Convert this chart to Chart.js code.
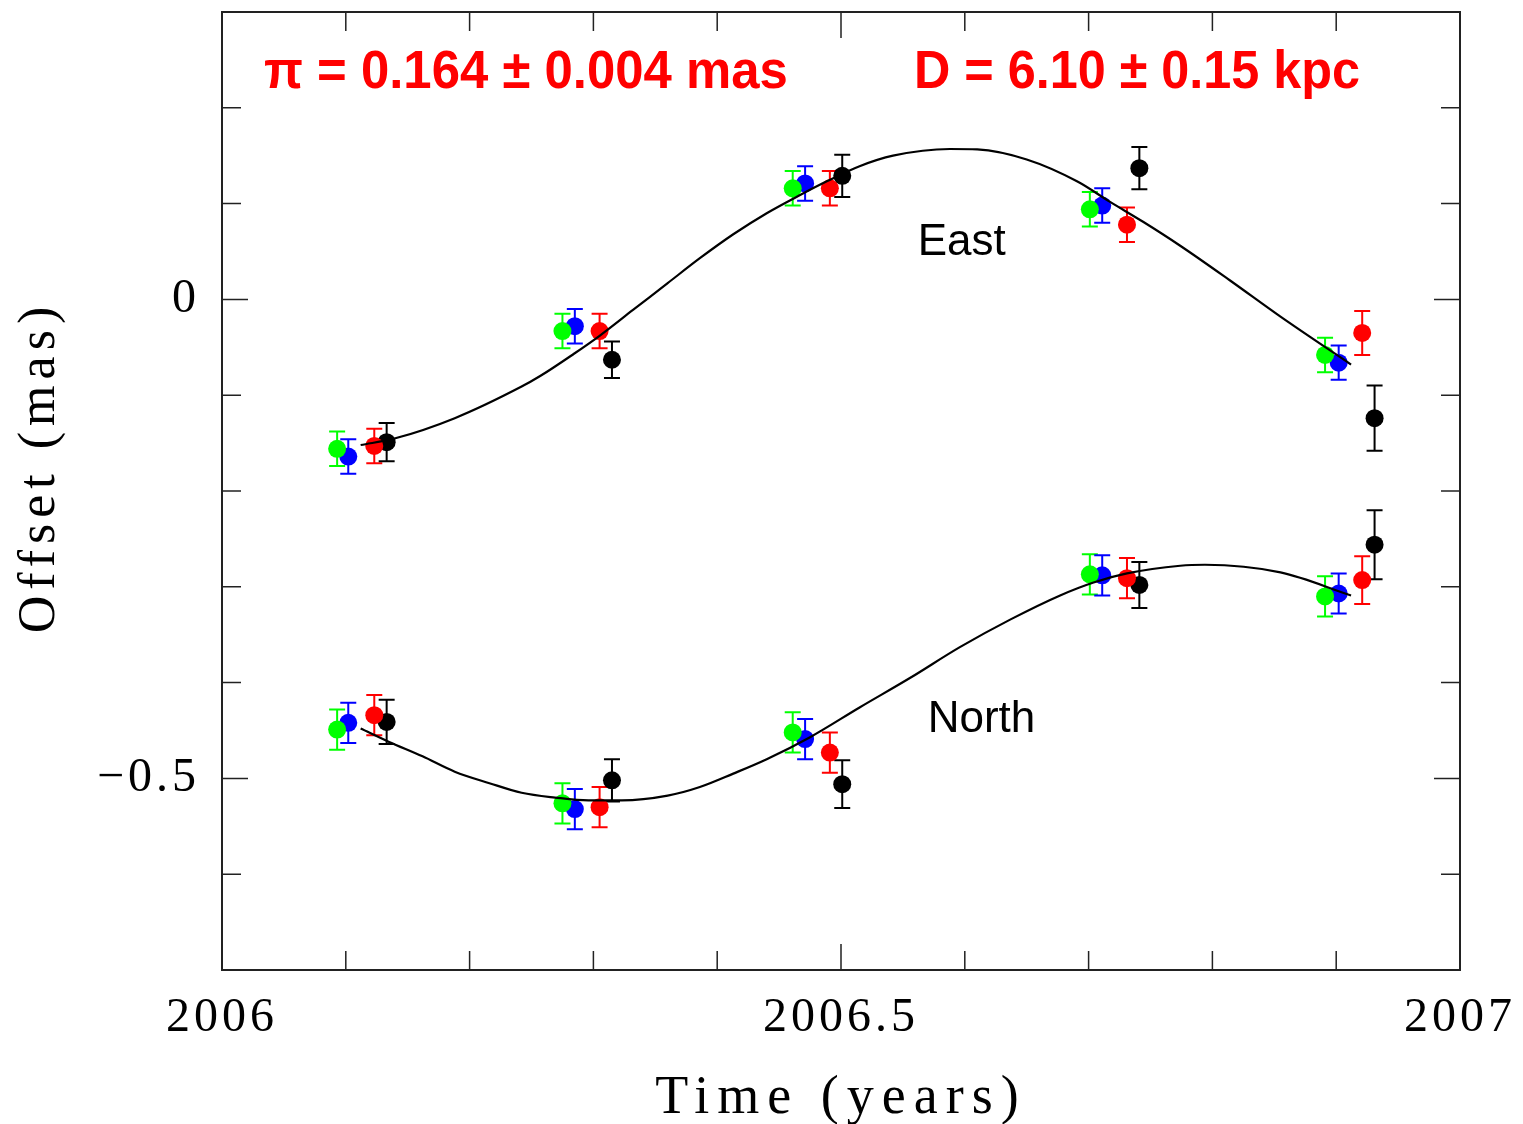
<!DOCTYPE html>
<html>
<head>
<meta charset="utf-8">
<title>Parallax fit</title>
<script src="https://cdn.jsdelivr.net/npm/chart.js@4.4.0/dist/chart.umd.min.js"></script>
<style>
  body { margin: 0; background: #fff; }
  canvas { display: block; }
</style>
</head>
<body>
<canvas id="parallax" width="1523" height="1124"></canvas>
<script>
// observing epochs (decimal year), one list per maser spot
const epochsGreen = [2006.093, 2006.275, 2006.461, 2006.701, 2006.891];
const epochsBlue  = [2006.102, 2006.285, 2006.471, 2006.711, 2006.902];
const epochsRed   = [2006.123, 2006.305, 2006.491, 2006.731, 2006.921];
const epochsBlack = [2006.133, 2006.315, 2006.501, 2006.741, 2006.931];

// East offsets (mas) and 1-sigma errors
const eastGreen = [-0.156, -0.033, 0.116, 0.094, -0.058];
const eastBlue  = [-0.164, -0.028, 0.121, 0.098, -0.066];
const eastRed   = [-0.153, -0.033, 0.116, 0.078, -0.035];
const eastBlack = [-0.149, -0.063, 0.129, 0.137, -0.124];
const eastGreenErr = [0.018, 0.018, 0.018, 0.018, 0.018];
const eastBlueErr  = [0.018, 0.018, 0.018, 0.018, 0.018];
const eastRedErr   = [0.018, 0.018, 0.018, 0.018, 0.023];
const eastBlackErr = [0.020, 0.019, 0.022, 0.022, 0.034];

// North offsets (mas) and 1-sigma errors
const northGreen = [-0.449, -0.526, -0.452, -0.287, -0.310];
const northBlue  = [-0.442, -0.532, -0.459, -0.288, -0.307];
const northRed   = [-0.434, -0.530, -0.473, -0.291, -0.293];
const northBlack = [-0.441, -0.502, -0.506, -0.298, -0.256];
const northGreenErr = [0.021, 0.021, 0.021, 0.021, 0.021];
const northBlueErr  = [0.021, 0.021, 0.021, 0.021, 0.021];
const northRedErr   = [0.021, 0.021, 0.021, 0.021, 0.025];
const northBlackErr = [0.023, 0.022, 0.025, 0.024, 0.036];

// best-fit parallax model, sampled
const eastFitT = [2006.112, 2006.140, 2006.188, 2006.242, 2006.257, 2006.284, 2006.305, 2006.332,
  2006.360, 2006.386, 2006.413, 2006.440, 2006.467, 2006.489, 2006.515, 2006.542, 2006.588,
  2006.610, 2006.650, 2006.691, 2006.717, 2006.744, 2006.774, 2006.814, 2006.855, 2006.912];
const eastFitV = [-0.152, -0.145, -0.124, -0.091, -0.080, -0.057, -0.038, -0.011,
  0.017, 0.043, 0.068, 0.090, 0.109, 0.1235, 0.139, 0.150, 0.157,
  0.1565, 0.146, 0.123, 0.102, 0.081, 0.056, 0.020, -0.018, -0.068];
const northFitT = [2006.112, 2006.135, 2006.162, 2006.188, 2006.216, 2006.242, 2006.269, 2006.296,
  2006.323, 2006.360, 2006.386, 2006.413, 2006.440, 2006.475, 2006.515, 2006.556, 2006.596,
  2006.637, 2006.677, 2006.704, 2006.731, 2006.774, 2006.794, 2006.855, 2006.912];
const northFitV = [-0.448, -0.462, -0.477, -0.493, -0.505, -0.515, -0.520, -0.523,
  -0.523, -0.518, -0.509, -0.495, -0.480, -0.457, -0.426, -0.395, -0.363,
  -0.334, -0.309, -0.2955, -0.286, -0.278, -0.277, -0.285, -0.309];

// labelled ticks
const xTickValues = [2006, 2006.5, 2007];
const xTickLabels = ['2006', '2006.5', '2007'];
const yTickValues = [-0.5, 0];
const yTickLabels = ['−0.5', '0'];

const serif = "'Liberation Serif', 'Times New Roman', serif";
const sans = "'Liberation Sans', Arial, sans-serif";

function points(xs, ys, errs) {
  return xs.map((x, i) => ({ x: x, y: ys[i], err: errs[i] }));
}

function curve(xs, ys) {
  return xs.map((x, i) => ({ x: x, y: ys[i] }));
}

function spot(label, color, xs, ys, errs) {
  return {
    label: label,
    data: points(xs, ys, errs),
    errorBars: true,
    backgroundColor: color,
    borderColor: color,
    pointRadius: 9,
    pointHoverRadius: 9,
    pointBorderWidth: 0
  };
}

function fitLine(label, xs, ys) {
  return {
    label: label,
    data: curve(xs, ys),
    showLine: true,
    borderColor: '#000',
    borderWidth: 2.2,
    pointRadius: 0,
    cubicInterpolationMode: 'monotone'
  };
}

function labelFor(values, labels) {
  return v => {
    const i = values.findIndex(t => Math.abs(t - v) < 1e-6);
    return i < 0 ? '' : labels[i];
  };
}

// vertical error bars with caps, under the dots
const errorBarPlugin = {
  id: 'errorBars',
  beforeDatasetsDraw(chart) {
    const ctx = chart.ctx;
    ctx.letterSpacing = '0px';
    const xs = chart.scales.x, ys = chart.scales.y;
    ctx.save();
    ctx.lineWidth = 2;
    chart.data.datasets.forEach(ds => {
      if (!ds.errorBars) return;
      ctx.strokeStyle = ds.borderColor;
      ds.data.forEach(p => {
        const px = xs.getPixelForValue(p.x);
        const top = ys.getPixelForValue(p.y + p.err);
        const bot = ys.getPixelForValue(p.y - p.err);
        ctx.beginPath();
        ctx.moveTo(px, top); ctx.lineTo(px, bot);
        ctx.moveTo(px - 8, top); ctx.lineTo(px + 8, top);
        ctx.moveTo(px - 8, bot); ctx.lineTo(px + 8, bot);
        ctx.stroke();
      });
    });
    ctx.restore();
  }
};

// box with inward ticks on all four sides, axis titles and annotations
const framePlugin = {
  id: 'frame',
  beforeDraw(chart) {
    // wide letter spacing for the tick numbers
    chart.ctx.letterSpacing = '4px';
  },
  afterDraw(chart) {
    const ctx = chart.ctx;
    const a = chart.chartArea;
    const xs = chart.scales.x, ys = chart.scales.y;
    ctx.save();
    ctx.strokeStyle = '#222';
    ctx.lineWidth = 2;
    ctx.strokeRect(a.left, a.top, a.right - a.left, a.bottom - a.top);
    ctx.lineWidth = 1.5;
    ctx.beginPath();
    for (let i = 0; i <= 10; i++) {
      const t = 2006 + i / 10;
      const len = i % 5 === 0 ? 26 : 19;
      const px = xs.getPixelForValue(t);
      ctx.moveTo(px, a.bottom); ctx.lineTo(px, a.bottom - len);
      ctx.moveTo(px, a.top); ctx.lineTo(px, a.top + len);
    }
    for (let i = 0; i <= 10; i++) {
      const v = -0.7 + i / 10;
      const len = (i === 2 || i === 7) ? 26 : 19;
      const py = ys.getPixelForValue(v);
      ctx.moveTo(a.left, py); ctx.lineTo(a.left + len, py);
      ctx.moveTo(a.right, py); ctx.lineTo(a.right - len, py);
    }
    ctx.stroke();

    // axis titles
    ctx.fillStyle = '#000';
    ctx.textBaseline = 'alphabetic';
    ctx.textAlign = 'left';
    ctx.font = '54px ' + serif;
    ctx.letterSpacing = '8px';
    let w = ctx.measureText('Time (years)').width;
    ctx.fillText('Time (years)', (a.left + a.right) / 2 - w / 2, 1113);

    ctx.font = '52px ' + serif;
    ctx.letterSpacing = '6px';
    w = ctx.measureText('Offset (mas)').width;
    ctx.save();
    ctx.translate(54, 467);
    ctx.rotate(-Math.PI / 2);
    ctx.fillText('Offset (mas)', -w / 2, 0);
    ctx.restore();
    ctx.letterSpacing = '0px';

    // component labels
    ctx.font = '44px ' + sans;
    ctx.fillText('East', xs.getPixelForValue(2006.562), ys.getPixelForValue(0.046));
    ctx.fillText('North', xs.getPixelForValue(2006.570), ys.getPixelForValue(-0.452));

    // fitted parallax and distance
    ctx.fillStyle = '#ff0000';
    ctx.font = 'bold 53px ' + sans;
    ctx.save();
    ctx.translate(264, 88);
    ctx.scale(0.96, 1);
    ctx.fillText('π = 0.164 ± 0.004 mas', 0, 0);
    ctx.restore();
    ctx.save();
    ctx.translate(914, 88);
    ctx.scale(0.95, 1);
    ctx.fillText('D = 6.10 ± 0.15 kpc', 0, 0);
    ctx.restore();
    ctx.restore();
  }
};

const config = {
  type: 'scatter',
  data: {
    datasets: [
      fitLine('East model', eastFitT, eastFitV),
      fitLine('North model', northFitT, northFitV),
      spot('East green', '#00ff00', epochsGreen, eastGreen, eastGreenErr),
      spot('East blue', '#0000ff', epochsBlue, eastBlue, eastBlueErr),
      spot('East red', '#ff0000', epochsRed, eastRed, eastRedErr),
      spot('East black', '#000000', epochsBlack, eastBlack, eastBlackErr),
      spot('North green', '#00ff00', epochsGreen, northGreen, northGreenErr),
      spot('North blue', '#0000ff', epochsBlue, northBlue, northBlueErr),
      spot('North red', '#ff0000', epochsRed, northRed, northRedErr),
      spot('North black', '#000000', epochsBlack, northBlack, northBlackErr)
    ]
  },
  options: {
    responsive: false,
    animation: false,
    layout: { padding: { top: 12, right: 63, left: 0, bottom: 0 } },
    plugins: {
      legend: { display: false },
      tooltip: { enabled: false }
    },
    scales: {
      x: {
        type: 'linear',
        min: 2006,
        max: 2007,
        grid: { display: false, drawTicks: false },
        border: { display: false },
        afterBuildTicks: s => { s.ticks = xTickValues.map(v => ({ value: v })); },
        afterFit: s => { s.height = 154; s.paddingLeft = 0; s.paddingRight = 0; },
        ticks: {
          padding: 20,
          color: '#000',
          font: { family: serif, size: 48 },
          maxRotation: 0,
          callback: labelFor(xTickValues, xTickLabels)
        }
      },
      y: {
        type: 'linear',
        min: -0.7,
        max: 0.3,
        grid: { display: false, drawTicks: false },
        border: { display: false },
        afterBuildTicks: s => { s.ticks = yTickValues.map(v => ({ value: v })); },
        afterFit: s => { s.width = 222; s.paddingTop = 0; s.paddingBottom = 0; },
        ticks: {
          padding: 22,
          color: '#000',
          font: { family: serif, size: 48 },
          callback: labelFor(yTickValues, yTickLabels)
        }
      }
    }
  },
  plugins: [errorBarPlugin, framePlugin]
};

new Chart(document.getElementById('parallax'), config);
</script>
</body>
</html>
